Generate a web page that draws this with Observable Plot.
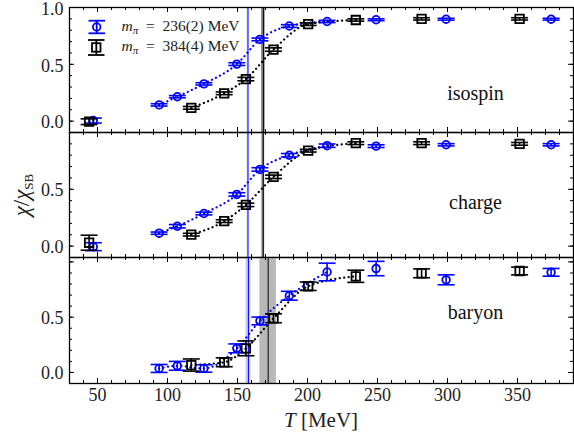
<!DOCTYPE html>
<html><head><meta charset="utf-8">
<script src="https://cdn.jsdelivr.net/npm/d3@7"></script>
<script src="https://cdn.jsdelivr.net/npm/@observablehq/plot@0.6"></script>
<style>
body{margin:0;background:#fff;}
#chart{position:relative;width:574px;height:433px;}
#chart svg{position:absolute;left:0;top:0;}
</style></head><body><div id="chart"></div>
<script>
// Temperatures (MeV) of the two ensembles
const tLight = [47, 94, 107, 126, 149.5, 166, 187, 214, 249, 299, 374];   // m_pi = 236(2) MeV
const tHeavy = [44, 117, 140.5, 156, 175.7, 200.5, 234.5, 281.5, 351.5]; // m_pi = 384(4) MeV

// isospin
const isoLight    = [0.005, 0.143, 0.215, 0.328, 0.502, 0.719, 0.837, 0.877, 0.892, 0.897, 0.897];
const isoLightErr = [0.022, 0.010, 0.010, 0.010, 0.012, 0.012, 0.012, 0.010, 0.008, 0.008, 0.008];
const isoHeavy    = [-0.005, 0.117, 0.245, 0.370, 0.630, 0.854, 0.890, 0.900, 0.900];
const isoHeavyErr = [0.025, 0.012, 0.012, 0.015, 0.015, 0.012, 0.010, 0.010, 0.010];
// charge
const chgLight    = [-0.005, 0.114, 0.175, 0.287, 0.455, 0.675, 0.800, 0.884, 0.880, 0.892, 0.892];
const chgLightErr = [0.035, 0.010, 0.015, 0.012, 0.015, 0.015, 0.015, 0.015, 0.012, 0.010, 0.010];
const chgHeavy    = [0.030, 0.101, 0.220, 0.363, 0.610, 0.840, 0.906, 0.906, 0.900];
const chgHeavyErr = [0.066, 0.012, 0.012, 0.015, 0.015, 0.012, 0.012, 0.012, 0.012];
// baryon
const barLight    = [null, 0.036, 0.060, 0.036, 0.218, 0.466, 0.694, 0.909, 0.940, 0.838, 0.906];
const barLightErr = [null, 0.036, 0.040, 0.034, 0.040, 0.035, 0.040, 0.080, 0.065, 0.045, 0.035];
const barHeavy    = [null, 0.067, 0.092, 0.218, 0.490, 0.780, 0.870, 0.897, 0.918];
const barHeavyErr = [null, 0.055, 0.040, 0.067, 0.040, 0.038, 0.055, 0.040, 0.035];

// pseudo-critical temperatures per panel (isospin, charge, baryon)
const tcLight    = [157.5, 157.5, 157.8];
const tcLightErr = [0.6, 0.6, 1.7];
const tcHeavy    = [168.5, 168.4, 171.9];
const tcHeavyErr = [1.3, 1.0, 5.9];

// fit ranges of the dotted curves
const fitLight = [94, 214];
const fitHeavy = [117, 235];

const panelNames = ["isospin", "charge", "baryon"];
const xTickLabels = [50, 100, 150, 200, 250, 300, 350];
const yTickLabels = [[0, 0.5, 1.0], [0, 0.5], [0, 0.5]];

const BLUE = "#0000ff";
const FONT = "'Liberation Serif', 'DejaVu Serif', serif";
const W = 574, H = 433;
const layout = [
  {top: 7, bottom: 132, yDomain: [-0.1, 1.0], dy: 24},
  {top: 132, bottom: 257, yDomain: [-0.1, 1.0], dy: 7.4},
  {top: 257, bottom: 383, yDomain: [-0.1, 1.04], dy: -8}
];
const mL = 69, mR = 1;
const plotW = W - mL - mR;

const capSymbol = {draw(ctx, size) { const r = Math.sqrt(size / Math.PI); ctx.moveTo(-r, 0); ctx.lineTo(r, 0); }};

function series(ts, vs, es) {
  return ts.map((t, i) => ({t, v: vs[i], e: es[i]})).filter(d => d.v != null);
}

const sets = [
  [isoLight, isoLightErr, isoHeavy, isoHeavyErr],
  [chgLight, chgLightErr, chgHeavy, chgHeavyErr],
  [barLight, barLightErr, barHeavy, barHeavyErr]
];

const xMinor = d3.range(30, 391, 10);
const chart = document.getElementById("chart");

function errMarks(data, color, symbol, r) {
  return [
    Plot.ruleX(data, {x: "t", y1: d => d.v - d.e, y2: d => d.v + d.e, stroke: color, strokeWidth: 1.6}),
    Plot.dot(data, {x: "t", y: d => d.v + d.e, symbol: capSymbol, r: 8.5, stroke: color, strokeWidth: 1.6, fill: "none"}),
    Plot.dot(data, {x: "t", y: d => d.v - d.e, symbol: capSymbol, r: 8.5, stroke: color, strokeWidth: 1.6, fill: "none"}),
    Plot.dot(data, {x: "t", y: "v", symbol, r, stroke: color, strokeWidth: 1.8, fill: "none"})
  ];
}

layout.forEach((L, p) => {
  const [lv, le, hv, he] = sets[p];
  const light = series(tLight, lv, le);
  const heavy = series(tHeavy, hv, he);
  const ph = L.bottom - L.top;
  const yMinor = d3.range(-1, 11).map(k => k / 10);
  const yMajor = [0, 0.5, 1.0];
  const xMajor = xTickLabels;
  const tcl = [{t: tcLight[p], e: tcLightErr[p]}];
  const tch = [{t: tcHeavy[p], e: tcHeavyErr[p]}];
  const marks = [
    Plot.rect(tcl, {x1: d => d.t - d.e, x2: d => d.t + d.e, fill: BLUE, fillOpacity: 0.22}),
    Plot.rect(tch, {x1: d => d.t - d.e, x2: d => d.t + d.e, fill: p < 2 ? "#8a8a8a" : "#b8b8b8"}),
    Plot.ruleX(tcl, {x: "t", stroke: BLUE, strokeWidth: 1}),
    Plot.ruleX(tch, {x: "t", stroke: "black", strokeWidth: 1}),
    Plot.line(light.filter(d => d.t >= fitLight[0] && d.t <= fitLight[1]), {x: "t", y: "v", curve: "monotone-x", stroke: BLUE, strokeWidth: 2.2, strokeDasharray: "0.1,4.4", strokeLinecap: "round"}),
    Plot.line(heavy.filter(d => d.t >= fitHeavy[0] && d.t <= fitHeavy[1]), {x: "t", y: "v", curve: "monotone-x", stroke: "black", strokeWidth: 2.2, strokeDasharray: "0.1,4.4", strokeLinecap: "round"}),
    ...errMarks(light, BLUE, "circle", 3.8),
    ...errMarks(heavy, "black", "square", 4.8),
    // inward ticks on all four sides
    Plot.ruleX(xMinor, {x: d => d, insetTop: ph - 3, stroke: "black"}),
    Plot.ruleX(xMajor, {x: d => d, insetTop: ph - 5, stroke: "black"}),
    Plot.ruleX(xMinor, {x: d => d, insetBottom: ph - 3, stroke: "black"}),
    Plot.ruleX(xMajor, {x: d => d, insetBottom: ph - 5, stroke: "black"}),
    Plot.ruleY(yMinor, {y: d => d, insetRight: plotW - 3, stroke: "black"}),
    Plot.ruleY(yMajor, {y: d => d, insetRight: plotW - 5, stroke: "black"}),
    Plot.ruleY(yMinor, {y: d => d, insetLeft: plotW - 3, stroke: "black"}),
    Plot.ruleY(yMajor, {y: d => d, insetLeft: plotW - 5, stroke: "black"}),
    Plot.frame({stroke: "black", strokeWidth: 1.3}),
    Plot.axisY({ticks: yTickLabels[p], tickSize: 0, tickPadding: 6, tickFormat: d3.format(".1f"), label: null, fill: "#222", dy: p === 0 ? 1.5 : 1}),
    Plot.text([panelNames[p]], {text: d => d, frameAnchor: "right", dx: -98, dy: L.dy, textAnchor: "middle", fontSize: 20, fill: "#111"})
  ];
  if (p === 2) marks.push(Plot.axisX({ticks: xTickLabels, tickSize: 0, tickPadding: 5, label: null, fill: "#222"}));
  const svg = Plot.plot({
    width: W, height: H,
    marginLeft: mL, marginRight: mR, marginTop: L.top, marginBottom: H - L.bottom,
    x: {domain: [30, 390], axis: null},
    y: {domain: L.yDomain, axis: null},
    style: {background: "transparent", overflow: "visible", fontFamily: FONT, fontSize: "18px", color: "black"},
    marks
  });
  chart.appendChild(svg);
});

// overlay: legend and axis titles
const ns = "http://www.w3.org/2000/svg";
const ov = document.createElementNS(ns, "svg");
ov.setAttribute("width", W); ov.setAttribute("height", H);
ov.style.overflow = "visible";
ov.innerHTML = `
<g font-family="${FONT.replace(/'/g, "")}" fill="#222">
  <g stroke="${BLUE}" stroke-width="1.8" fill="none">
    <line x1="88.5" x2="105" y1="20.7" y2="20.7"/><line x1="88.5" x2="105" y1="33.3" y2="33.3"/>
    <line x1="96.7" x2="96.7" y1="20.7" y2="33.3"/><circle cx="96.7" cy="27" r="3.8"/>
  </g>
  <g stroke="black" stroke-width="1.8" fill="none">
    <line x1="88" x2="104.5" y1="40" y2="40"/><line x1="88" x2="104.5" y1="55" y2="55"/>
    <line x1="96.3" x2="96.3" y1="40" y2="55"/><rect x="92" y="43.2" width="8.5" height="8.5"/>
  </g>
  <text x="121.5" y="30.7" font-size="15.5"><tspan font-style="italic">m</tspan><tspan font-style="italic" font-size="11" dy="3">π</tspan><tspan dy="-3" xml:space="preserve">  =  236(2) MeV</tspan></text>
  <text x="121.5" y="50.7" font-size="15.5"><tspan font-style="italic">m</tspan><tspan font-style="italic" font-size="11" dy="3">π</tspan><tspan dy="-3" xml:space="preserve">  =  384(4) MeV</tspan></text>
  <text transform="translate(29,195) rotate(-90)" text-anchor="middle" font-size="23"><tspan font-style="italic">χ</tspan>/<tspan font-style="italic">χ</tspan><tspan font-size="13" dy="4">SB</tspan></text>
  <text x="321" y="427" text-anchor="middle" font-size="21"><tspan font-style="italic">T</tspan> [MeV]</text>
</g>`;
chart.appendChild(ov);
</script></body></html>
